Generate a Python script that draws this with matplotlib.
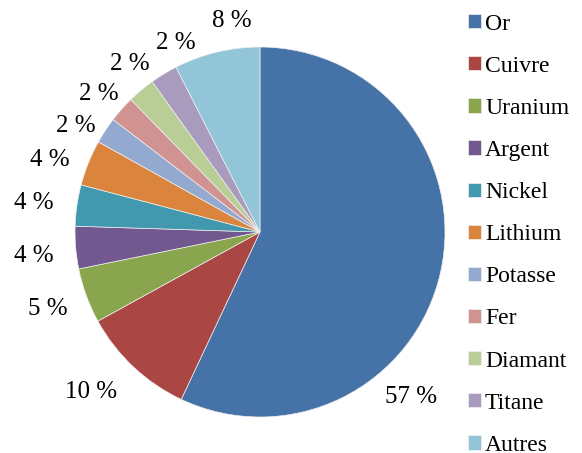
import matplotlib.pyplot as plt
import numpy as np

# Data
minerals = ['Or', 'Cuivre', 'Uranium', 'Argent', 'Nickel', 'Lithium',
            'Potasse', 'Fer', 'Diamant', 'Titane', 'Autres']
shares = [57.0, 10.0, 4.8, 3.7, 3.6, 4.0, 2.3, 2.3, 2.4, 2.4, 7.5]
pct_labels = ['57 %', '10 %', '5 %', '4 %', '4 %', '4 %',
              '2 %', '2 %', '2 %', '2 %', '8 %']
colors = ['#4572A7', '#AA4643', '#89A54E', '#71588F', '#4198AF', '#DB843D',
          '#93A9CF', '#D19392', '#B9CD96', '#A99BBD', '#92C5D8']

# label placement (angle in degrees, distance in radii) - mimics Excel "best fit"
label_angle = [-47.5, 223.4, 199.9, 186, 172.7, 161, 150, 139.4, 127.7, 114, 97.5]
label_dist = [1.21, 1.26, 1.22, 1.23, 1.23, 1.20, 1.15, 1.15, 1.15, 1.12, 1.15]

plt.rcParams['font.family'] = ['Liberation Serif', 'DejaVu Serif']

W, H = 582, 453
fig = plt.figure(figsize=(W / 100, H / 100), dpi=100)
cx, cy, r = 260, 232, 185
ax = fig.add_axes([(cx - r) / W, (H - cy - r) / H, 2 * r / W, 2 * r / H])

wedges, _ = ax.pie(shares, colors=colors, startangle=90, counterclock=False,
                   radius=1, wedgeprops=dict(edgecolor='#f0f0f0', linewidth=0.5))
ax.set_xlim(-1, 1)
ax.set_ylim(-1, 1)
ax.set_aspect('equal')

for lab, a, d in zip(pct_labels, label_angle, label_dist):
    t = np.deg2rad(a)
    ax.text(d * np.cos(t), d * np.sin(t), lab, ha='center', va='center',
            fontsize=18, clip_on=False)

fig.legend(wedges, minerals, loc='upper left', bbox_to_anchor=(468 / W, 1 - 13.5 / H),
           frameon=False, fontsize=17, handlelength=0.55, handleheight=0.55,
           handletextpad=0.17, labelspacing=0.895, borderaxespad=0, borderpad=0)

plt.savefig('out.png', dpi=100)
